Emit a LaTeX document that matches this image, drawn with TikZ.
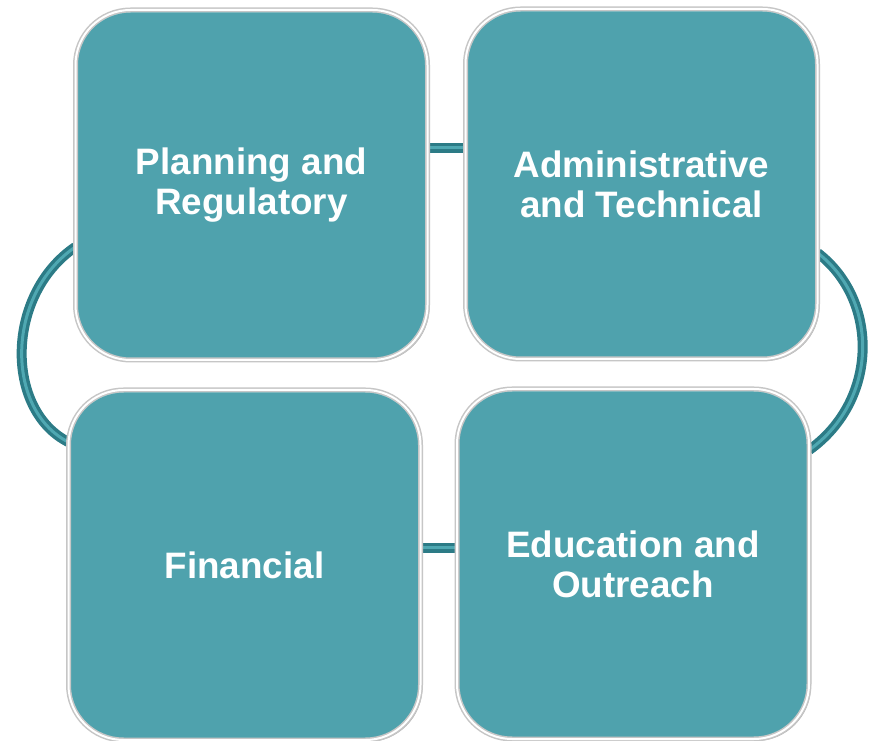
\documentclass[tikz,border=0pt]{standalone}
\usepackage{fontspec}
\setmainfont{Liberation Sans}
\usetikzlibrary{shadows}
\definecolor{tealbase}{HTML}{4FA2AD}
\definecolor{tealhi}{HTML}{78CED8}
\definecolor{linkdark}{HTML}{2C7B86}
\definecolor{linklight}{HTML}{4FA8B2}
\tikzset{
  boxst/.style={rounded corners=55pt, fill=tealbase, draw=gray!45, line width=1.5pt,
    double=white, double distance=2pt, minimum width=352pt, minimum height=350pt,
    inner sep=0pt, align=center, text=white,
    font=\fontsize{36.8pt}{40pt}\selectfont\bfseries,
    drop shadow={shadow xshift=2pt, shadow yshift=-2pt, opacity=0.3, fill=black},
    path picture={\begin{scope}
      \clip (path picture bounding box.north west) rectangle ([yshift=-22pt]path picture bounding box.north east);
      \draw[tealhi, line width=5pt, rounded corners=55pt]
        (path picture bounding box.south west) rectangle (path picture bounding box.north east);
      \end{scope}}},
  linkouter/.style={draw=linkdark, line width=10pt},
  linkinner/.style={draw=linklight, line width=3pt}
}
\begin{document}
\begin{tikzpicture}[x=1pt,y=1pt]
\useasboundingbox (0,0) rectangle (871,740);
\fill[white] (0,0) rectangle (871,740);
% placeholders giving anchors for the connectors
\path (251.5,557) node[minimum width=352pt, minimum height=350pt, inner sep=0pt] (tlp) {};
\path (641.5,558) node[minimum width=352pt, minimum height=350pt, inner sep=0pt] (trp) {};
\path (244.5,175) node[minimum width=352pt, minimum height=350pt, inner sep=0pt] (blp) {};
\path (633,176) node[minimum width=352pt, minimum height=350pt, inner sep=0pt] (brp) {};
% connectors
\foreach \st in {linkouter,linkinner}{
  \draw[\st] ([yshift=-64pt]tlp.west) .. controls (5,445) and (5,330) .. ([yshift=123pt]blp.west);
  \draw[\st] ([yshift=-71pt]trp.east) .. controls (879,440) and (879,340) .. ([yshift=114pt]brp.east);
  \draw[\st] ([yshift=35pt]tlp.east) -- ([yshift=34pt]trp.west);
  \draw[\st] ([yshift=17pt]blp.east) -- ([yshift=16pt]brp.west);
}
% boxes
\node[boxst] (tl) at ([yshift=-2pt]tlp) {Planning and\\Regulatory};
\node[boxst] (tr) at ([yshift=-2pt]trp) {Administrative\\and Technical};
\node[boxst] (bl) at (blp) {Financial};
\node[boxst] (br) at (brp) {Education and\\Outreach};
\end{tikzpicture}
\end{document}
